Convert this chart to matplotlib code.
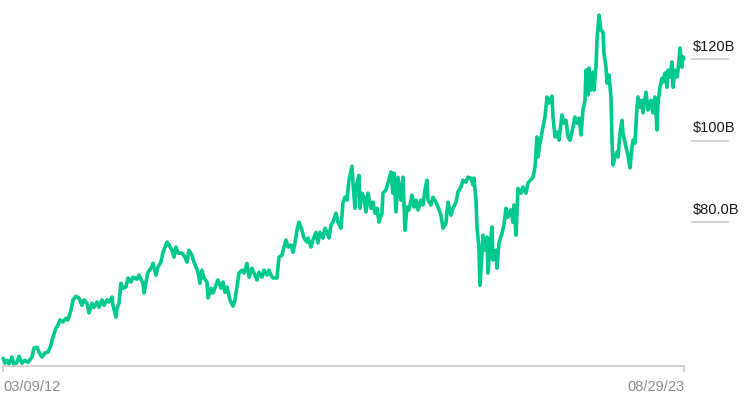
import matplotlib
matplotlib.use("Agg")
import matplotlib.pyplot as plt

# decimal years (trading dates) and market value in $ billions
years = [
    2012.187, 2012.220, 2012.254, 2012.288, 2012.338, 2012.372, 2012.422, 2012.456, 2012.507, 2012.557,
    2012.608, 2012.675, 2012.709, 2012.759, 2012.793, 2012.844, 2012.894, 2012.945, 2012.995, 2013.029,
    2013.079, 2013.113, 2013.147, 2013.197, 2013.248, 2013.282, 2013.332, 2013.366, 2013.416, 2013.467,
    2013.517, 2013.551, 2013.602, 2013.635, 2013.686, 2013.720, 2013.770, 2013.804, 2013.854, 2013.888,
    2013.939, 2013.972, 2014.023, 2014.040, 2014.090, 2014.107, 2014.141, 2014.174, 2014.208, 2014.259,
    2014.292, 2014.343, 2014.376, 2014.444, 2014.478,
    2014.545, 2014.562, 2014.596, 2014.629, 2014.697, 2014.713, 2014.764, 2014.798, 2014.848, 2014.882,
    2014.949, 2014.983, 2015.034, 2015.067, 2015.101, 2015.135, 2015.202, 2015.253, 2015.286, 2015.320,
    2015.370, 2015.404, 2015.438, 2015.472, 2015.505, 2015.539, 2015.573, 2015.623, 2015.640, 2015.691,
    2015.724, 2015.775, 2015.808, 2015.859, 2015.893, 2015.926, 2015.960, 2016.011, 2016.061, 2016.095,
    2016.129, 2016.162, 2016.213, 2016.246, 2016.297, 2016.331, 2016.381, 2016.415, 2016.465, 2016.499,
    2016.550, 2016.583, 2016.634, 2016.668,
    2016.701, 2016.735, 2016.802, 2016.836, 2016.887, 2016.920, 2016.954, 2016.988, 2017.038, 2017.072,
    2017.106, 2017.139, 2017.173, 2017.224, 2017.257, 2017.308, 2017.325, 2017.375, 2017.409, 2017.459,
    2017.493, 2017.527, 2017.577, 2017.611, 2017.645, 2017.678, 2017.712, 2017.746, 2017.796, 2017.830,
    2017.880, 2017.914, 2017.948, 2017.982, 2018.015, 2018.066, 2018.083, 2018.116, 2018.150, 2018.184,
    2018.201, 2018.234, 2018.268, 2018.302, 2018.335, 2018.386, 2018.420, 2018.453, 2018.487, 2018.521,
    2018.571, 2018.588, 2018.639, 2018.672, 2018.723, 2018.756, 2018.773, 2018.807, 2018.841,
    2018.891, 2018.925, 2018.959, 2018.992, 2019.026, 2019.077, 2019.110, 2019.144, 2019.178, 2019.228,
    2019.262, 2019.296, 2019.329, 2019.346, 2019.397, 2019.430, 2019.481, 2019.515, 2019.565, 2019.599,
    2019.649, 2019.683, 2019.734, 2019.767, 2019.818, 2019.851, 2019.902, 2019.936, 2019.986, 2020.020,
    2020.070, 2020.104, 2020.121, 2020.155, 2020.172, 2020.205, 2020.222, 2020.256, 2020.273, 2020.306,
    2020.340, 2020.357, 2020.391, 2020.424, 2020.441, 2020.492, 2020.508, 2020.542, 2020.593, 2020.626,
    2020.660, 2020.694, 2020.744, 2020.778, 2020.795, 2020.829, 2020.862, 2020.913, 2020.946, 2020.997,
    2021.031,
    2021.115, 2021.149, 2021.182, 2021.199, 2021.233, 2021.283, 2021.317, 2021.351, 2021.384, 2021.435,
    2021.452, 2021.486, 2021.519, 2021.553, 2021.603, 2021.637, 2021.671, 2021.705, 2021.738, 2021.789,
    2021.822, 2021.856, 2021.890, 2021.924, 2021.957, 2021.991, 2022.008, 2022.041, 2022.058, 2022.092,
    2022.126, 2022.143, 2022.176, 2022.193, 2022.227, 2022.260, 2022.294, 2022.311, 2022.345, 2022.362,
    2022.395, 2022.429, 2022.446, 2022.463, 2022.496, 2022.530, 2022.547, 2022.581, 2022.614, 2022.631,
    2022.682, 2022.715, 2022.749, 2022.783, 2022.800, 2022.833, 2022.867, 2022.884, 2022.917, 2022.951,
    2022.968, 2023.019, 2023.052, 2023.103, 2023.136, 2023.170, 2023.204, 2023.221, 2023.254, 2023.288,
    2023.305, 2023.339, 2023.372, 2023.389, 2023.423, 2023.457, 2023.474, 2023.507, 2023.541, 2023.558,
    2023.592, 2023.625, 2023.642, 2023.659,
]
value_bn = [
    46.6, 45.4, 46.1, 45.2, 46.9, 44.9, 45.6, 47.1, 45.4, 46.1,
    45.6, 46.9, 49.1, 49.3, 48.1, 46.9, 47.9, 48.1, 49.8, 51.8,
    54.0, 54.7, 56.0, 55.5, 56.4, 56.0, 58.4, 60.9, 61.8, 61.4,
    59.6, 60.9, 60.1, 57.7, 60.1, 59.1, 60.4, 59.1, 60.9, 59.6,
    60.9, 60.4, 61.6, 59.6, 56.7, 58.9, 60.1, 65.0, 63.8, 64.1,
    66.3, 65.3, 66.5, 66.0, 67.0,
    65.0, 62.6, 65.3, 67.7, 69.0, 69.9, 67.0, 69.0, 70.2, 72.6,
    75.1, 74.4, 73.1, 71.4, 73.9, 72.4, 72.4, 71.4, 70.2, 73.1,
    71.9, 70.2, 69.0, 67.7, 65.0, 68.2, 66.3, 65.3, 61.4, 63.8,
    62.6, 64.5, 65.8, 63.8, 65.3, 62.8, 64.1, 60.9, 59.4, 60.9,
    64.1, 67.5, 68.2, 67.5, 69.9, 66.5, 68.7, 67.5, 65.8, 67.7,
    66.5, 68.2, 67.0, 68.2,
    67.0, 66.3, 66.3, 71.4, 71.9, 73.9, 75.6, 73.9, 74.4, 72.6,
    74.9, 78.0, 80.0, 78.0, 76.1, 75.1, 76.1, 73.9, 75.6, 77.5,
    74.9, 77.5, 76.1, 78.5, 77.5, 76.1, 79.3, 80.0, 82.2, 80.0,
    78.5, 84.7, 86.1, 85.4, 90.3, 93.7, 89.6, 83.4, 89.6, 91.5,
    83.4, 87.1, 86.1, 82.5, 87.1, 83.4, 84.9, 82.2, 83.4, 80.0,
    82.2, 87.1, 87.9, 89.6, 92.3, 87.1, 92.0, 82.5, 91.0,
    85.4, 91.0, 78.0, 83.7, 83.0, 86.6, 83.7, 85.4, 83.0, 85.4,
    84.2, 87.9, 90.3, 85.4, 84.2, 86.1, 84.9, 83.7, 81.7, 78.5,
    79.8, 84.9, 81.7, 83.4, 84.9, 87.4, 88.6, 90.3, 89.8, 91.0,
    90.8, 89.1, 90.8, 85.4, 78.8, 73.6, 64.5, 72.4, 76.8, 73.1,
    76.3, 67.5, 73.9, 78.8, 70.7, 73.1, 68.7, 74.9, 77.3, 79.3,
    83.4, 81.2, 83.0, 80.0, 84.2, 76.8, 88.3, 87.1, 88.6, 87.1,
    89.6,
    91.0, 93.5, 100.9, 96.0, 99.4, 103.3, 105.8, 110.7, 109.2, 110.9,
    105.8, 100.9, 102.1, 100.1, 106.3, 104.3, 105.0, 100.9, 100.1, 103.3,
    105.8, 104.3, 105.5, 101.4, 107.5, 109.9, 117.3, 111.2, 117.8, 112.4,
    116.8, 112.4, 118.0, 124.7, 130.8, 127.1, 126.6, 121.5, 118.0, 114.1,
    116.1, 110.7, 100.1, 94.0, 96.0, 97.2, 96.0, 101.8, 105.0, 101.8,
    98.4, 96.4, 93.3, 98.4, 100.1, 99.4, 108.2, 110.7, 108.2, 109.9,
    106.8, 111.9, 107.5, 109.9, 106.8, 110.7, 102.6, 109.2, 113.1, 115.3,
    114.4, 116.6, 113.1, 117.3, 115.6, 119.3, 113.1, 117.3, 115.6, 117.3,
    122.7, 118.0, 120.5, 120.2,
]

grid_values = [80, 100, 120]
grid_labels = ["$80.0B", "$100B", "$120B"]
date_labels = ["03/09/12", "08/29/23"]

line_color = "#00c98d"
rule_color = "#cccccc"

fig = plt.figure(figsize=(7.5, 4.11), dpi=100)
ax = fig.add_axes([3 / 750, 45 / 411, 681 / 750, 366 / 411])

ax.plot(years, value_bn, color=line_color, linewidth=2.6, solid_joinstyle="round",
        solid_capstyle="round", clip_on=False)

ax.set_xlim(years[0], years[-1])
ax.set_ylim(44.7, 134.5)

for s in ["top", "right", "left"]:
    ax.spines[s].set_visible(False)
ax.spines["bottom"].set_color(rule_color)
ax.spines["bottom"].set_linewidth(1.2)
ax.set_yticks([])

ax.set_xticks([years[0], years[-1]])
ax.set_xticklabels(date_labels, fontsize=10.5, color="#8c8c8c", family="Liberation Sans")
ax.tick_params(axis="x", length=4, width=1.2, color=rule_color, pad=6)
lbls = ax.get_xticklabels()
lbls[0].set_ha("left")
lbls[1].set_ha("right")

# short gridlines with labels to the right of the plot
ytrans = ax.get_yaxis_transform()
for v, lab in zip(grid_values, grid_labels):
    ax.plot([1.0117, 1.0646], [v, v], color=rule_color, linewidth=1.2,
            transform=ytrans, clip_on=False)
    ax.annotate(lab, xy=(1.013, v), xycoords=ytrans, xytext=(0, 4),
                textcoords="offset points", ha="left", va="bottom",
                fontsize=10.5, color="#1a1a1a", family="Liberation Sans")

fig.savefig("out.png", dpi=100)
